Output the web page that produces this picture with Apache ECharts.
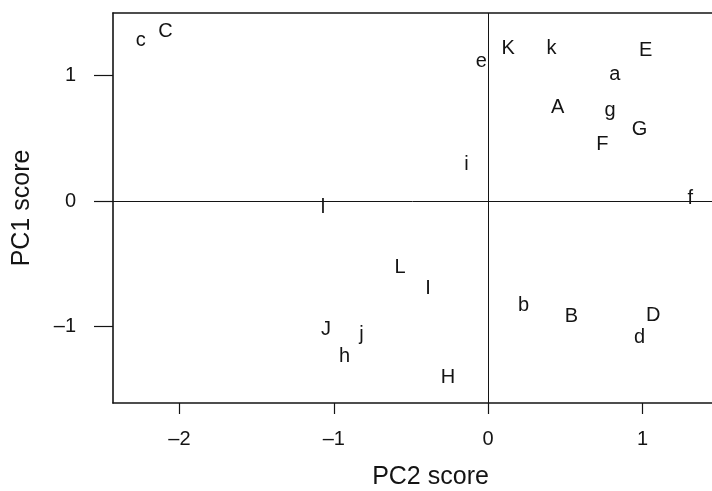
<!DOCTYPE html>
<html>
<head>
<meta charset="utf-8">
<script src="https://cdn.jsdelivr.net/npm/echarts@6/dist/echarts.min.js"></script>
<style>html,body{margin:0;padding:0;background:#fff}#c{width:712px;height:491px}</style>
</head>
<body>
<div id="c"></div>
<script>
const labels = ['c','C','e','K','k','E','a','A','g','G','F','i','f','l','L','I','b','B','D','d','J','j','h','H'];
const pc2 = [-2.25,-2.09,-0.045,0.13,0.41,1.02,0.82,0.45,0.79,0.98,0.74,-0.14,1.31,-1.07,-0.57,-0.39,0.23,0.54,1.07,0.98,-1.05,-0.82,-0.93,-0.26];
const pc1 = [1.28,1.35,1.11,1.22,1.22,1.20,1.01,0.75,0.72,0.57,0.45,0.29,0.02,-0.05,-0.53,-0.70,-0.83,-0.92,-0.91,-1.09,-1.02,-1.06,-1.24,-1.41];
const xTicks = [-2,-1,0,1];
const yTicks = [-1,0,1];

const ink = '#141414';
const fontFamily = 'Liberation Sans, Arial, sans-serif';
const fmt = v => String(v).replace('-', '\u2013');

const chart = echarts.init(document.getElementById('c'));
chart.setOption({
  animation: false,
  backgroundColor: '#fff',
  grid: {left: 113, right: 0, top: 13, bottom: 88, containLabel: false, outerBoundsMode: 'none'},
  xAxis: [{
    type: 'value', min: -2.43, max: 1.45, position: 'bottom',
    name: 'PC2 score', nameLocation: 'middle', nameGap: 62,
    nameTextStyle: {fontSize: 25, color: ink, fontFamily, padding: [0,0,0,36]},
    axisLine: {show: true, onZero: false, lineStyle: {color: ink, width: 1.6}},
    axisTick: {show: true, customValues: xTicks, length: 11, lineStyle: {color: ink, width: 1.2}},
    axisLabel: {customValues: xTicks, formatter: fmt, margin: 26, fontSize: 20, color: ink, fontFamily},
    splitLine: {show: false}
  }, {
    type: 'value', min: -2.43, max: 1.45, position: 'top',
    axisLine: {show: true, onZero: false, lineStyle: {color: ink, width: 1.6}},
    axisTick: {show: false}, axisLabel: {show: false}, splitLine: {show: false}
  }],
  yAxis: {
    type: 'value', min: -1.61, max: 1.50,
    name: 'PC1 score', nameLocation: 'middle', nameGap: 78,
    nameTextStyle: {fontSize: 25, color: ink, fontFamily},
    axisLine: {show: true, onZero: false, lineStyle: {color: ink, width: 1.6}},
    axisTick: {show: true, customValues: yTicks, length: 19, lineStyle: {color: ink, width: 1.2}},
    axisLabel: {customValues: yTicks, formatter: fmt, margin: 37, fontSize: 20, color: ink, fontFamily},
    splitLine: {show: false}
  },
  series: [{
    type: 'scatter',
    xAxisIndex: 0,
    data: labels.map((n, i) => ({name: n, value: [pc2[i], pc1[i]]})),
    symbol: 'circle', symbolSize: 1,
    itemStyle: {color: 'rgba(255,255,255,0)', opacity: 1},
    label: {show: true, position: 'inside', formatter: p => p.name, fontSize: 20, color: ink, fontFamily, textBorderWidth: 0, opacity: 1},
    emphasis: {disabled: true},
    markLine: {
      silent: true, symbol: 'none', animation: false,
      label: {show: false},
      lineStyle: {type: 'solid', color: ink, width: 1, opacity: 1},
      data: [{xAxis: 0}, {yAxis: 0}]
    }
  }]
});
</script>
</body>
</html>
